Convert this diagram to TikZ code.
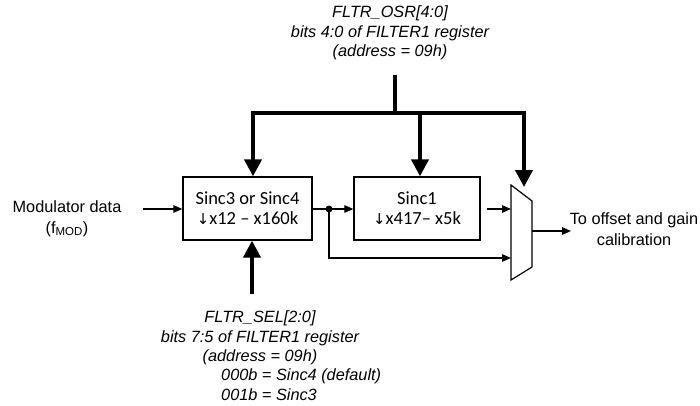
\documentclass[tikz,border=0pt]{standalone}
\usepackage{fontspec}
\setmainfont{Liberation Sans}
\newfontfamily\boxfont{Carlito}
\newfontfamily\symfont{DejaVu Sans}
\usetikzlibrary{arrows.meta}
\begin{document}
\begin{tikzpicture}[x=1pt,y=-1pt,
  lbl/.style={font=\fontsize{16.3}{19}\selectfont, inner sep=0pt},
  ilbl/.style={font=\fontsize{16.3}{19.5}\selectfont\itshape, inner sep=0pt},
  blk/.style={draw, line width=1.3pt, minimum height=63pt, inner sep=0pt, align=center,
              font=\fontsize{18.5}{21}\selectfont\boxfont},
  thin/.style={line width=1.2pt, -{Triangle[length=9pt,width=7.5pt]}},
  bus/.style={line width=4pt},
  busarr/.style={line width=4pt, -{Triangle[length=17pt,width=17pt]}},
]
\useasboundingbox (0,0) rectangle (700,406);

% blocks
\node[blk, minimum width=129pt] (b1) at (247.5,208.5)
  {Sinc3 or Sinc4\\[-1pt]{\symfont\fontsize{15}{15}\selectfont ↓}x12 – x160k};
\node[blk, minimum width=126pt] (b2) at (417,208.5)
  {Sinc1\\[-1pt]{\symfont\fontsize{15}{15}\selectfont ↓}x417– x5k};

% mux
\coordinate (mtl) at (511,185);
\coordinate (mtr) at (532,201);
\coordinate (mbr) at (532,267);
\coordinate (mbl) at (511,280);
\draw[line width=1.2pt] (mtl) -- (mtr) -- (mbr) -- (mbl) -- cycle;
\coordinate (min1) at (511,209);
\coordinate (min2) at (511,258);
\coordinate (mout) at (532,231);

% input
\node[lbl] (modl) at (67,207) {Modulator data};
\node[lbl] (fmod) at (67,229) {(f\textsubscript{\fontsize{11.5}{11.5}\selectfont MOD})};
\coordinate (inst) at (143,209);
\draw[thin] (inst) -- (inst -| b1.west);

% dot and paths
\coordinate (dot) at (329,209);
\draw[line width=1.2pt] (b1.east |- dot) -- (dot);
\fill (dot) circle (3.5pt);
\draw[thin] (dot) -- (dot -| b2.west);
\draw[thin] (dot) |- (min2);
\coordinate (s1o) at (487,209);
\draw[thin] (s1o) -- (min1);

% output
\coordinate (oend) at (571,231);
\draw[thin] (mout) -- (oend);
\node[lbl] (out1) at (634,220) {To offset and gain};
\node[lbl] (out2) at (634,240) {calibration};

% top bus
\node[ilbl, align=center] (osr) at (390,33)
  {FLTR\_OSR[4:0]\\bits 4:0 of FILTER1 register\\(address = 09h)};
\coordinate (btop) at (395,75);
\coordinate (bj) at (395,113);
\coordinate (bl) at (253,113);
\coordinate (bm) at (420,113);
\coordinate (br) at (524,113);
\draw[bus] (btop) -- (bj);
\draw[bus, line cap=rect] (bl) -- (br);
\draw[busarr] (bl) -- (bl |- b1.north);
\draw[busarr] (bm) -- (bm |- b2.north);
\coordinate (mtip) at (524,187);
\draw[busarr] (br) -- (mtip);

% bottom bus
\coordinate (bb) at (252,294);
\draw[busarr] (bb) -- (bb |- b1.south);
\node[ilbl] (sel1) at (260,318) {FLTR\_SEL[2:0]};
\node[ilbl] (sel2) at (260,338) {bits 7:5 of FILTER1 register};
\node[ilbl] (sel3) at (260,357) {(address = 09h)};
\node[ilbl, anchor=west] (sel4) at (221,376) {000b = Sinc4 (default)};
\node[ilbl, anchor=west] (sel5) at (221,395) {001b = Sinc3};
\end{tikzpicture}
\end{document}
